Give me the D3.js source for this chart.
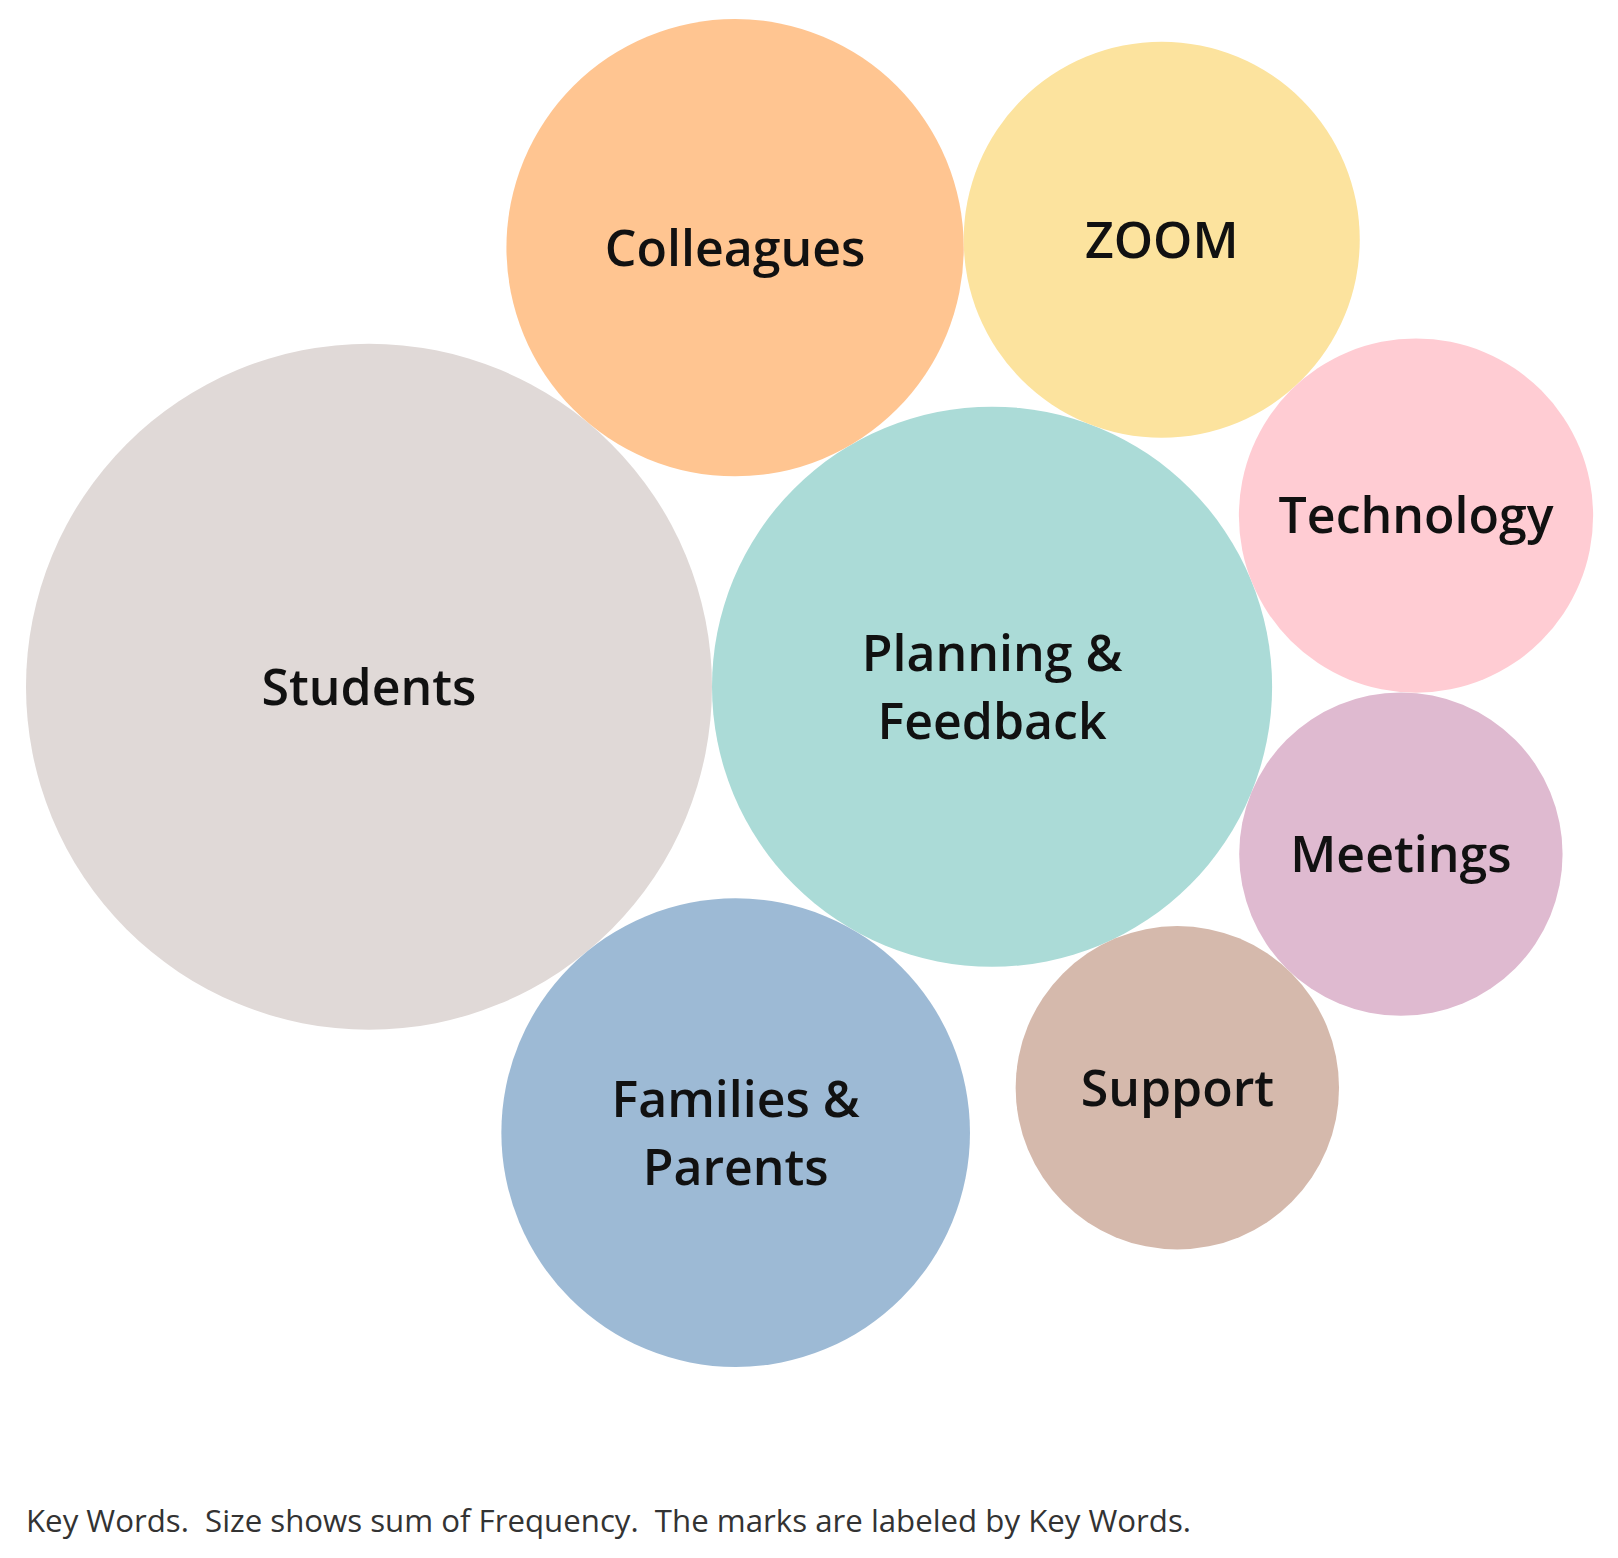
<!DOCTYPE html>
<html>
<head>
<meta charset="utf-8">
<script src="https://cdn.jsdelivr.net/npm/d3@7"></script>
<style>
  body { margin: 0; background: #fff; }
  svg { display: block; }
</style>
</head>
<body>
<div id="bubbles"></div>
<script>
(function () {
  const width = 1618, height = 1558;
  const left = 26, top = 19;

  // key words, sorted by frequency (Tableau packs largest first)
  const keyWords = ["Students", "Planning & Feedback", "Families & Parents", "Colleagues", "ZOOM", "Technology", "Meetings", "Support"];
  const frequency = [45, 30, 21, 20, 15, 12, 10, 10];
  const colors = ["#e0d9d7", "#abdbd7", "#9dbad5", "#ffc591", "#fce39e", "#ffccd3", "#dfbad0", "#d5b9ac"];
  const labelLines = [["Students"], ["Planning &", "Feedback"], ["Families &", "Parents"], ["Colleagues"], ["ZOOM"], ["Technology"], ["Meetings"], ["Support"]];

  const rScale = d3.scaleSqrt().domain([0, d3.max(frequency)]).range([0, 343]);

  const nodes = keyWords.map((k, i) => ({ key: k, value: frequency[i], r: rScale(frequency[i]), color: colors[i], lines: labelLines[i] }));

  // pack: first two side by side, the rest tangent to the second (anchor)
  // and to a neighbour, going round the anchor
  function tangents(a, b, r) {
    const dx = b.x - a.x, dy = b.y - a.y, d = Math.hypot(dx, dy);
    const da = a.r + r, db = b.r + r;
    const t = (d * d + da * da - db * db) / (2 * d);
    const h = Math.sqrt(Math.max(0, da * da - t * t));
    const ux = dx / d, uy = dy / d;
    return [
      { x: a.x + t * ux - h * uy, y: a.y + t * uy + h * ux },
      { x: a.x + t * ux + h * uy, y: a.y + t * uy - h * ux }
    ];
  }
  const free = (p, r, placed) => placed.every(q => Math.hypot(p.x - q.x, p.y - q.y) >= q.r + r - 0.5);

  nodes[0].x = 0; nodes[0].y = 0;
  nodes[1].x = nodes[0].r + nodes[1].r; nodes[1].y = 0;
  for (let i = 2; i < nodes.length; i++) {
    const n = nodes[i], placed = nodes.slice(0, i);
    const nb = i < 4 ? nodes[0] : nodes[i - 1];
    const c = tangents(nb, nodes[1], n.r)
      .filter(p => free(p, n.r, placed))
      .sort((p, q) => q.y - p.y)[0];
    n.x = c.x; n.y = c.y;
  }

  const x0 = d3.min(nodes, d => d.x - d.r);
  const y0 = d3.min(nodes, d => d.y - d.r);
  const x = d3.scaleLinear().domain([x0, x0 + 1]).range([left, left + 1]);
  const y = d3.scaleLinear().domain([y0, y0 + 1]).range([top, top + 1]);

  const svg = d3.select("#bubbles")
    .append("svg")
    .attr("width", width)
    .attr("height", height);

  const g = svg.selectAll("g.mark")
    .data(nodes)
    .join("g")
      .attr("class", "mark")
      .attr("transform", d => `translate(${x(d.x)},${y(d.y)})`);

  g.append("circle")
    .attr("r", d => d.r)
    .attr("fill", d => d.color);

  const fontSize = 50, lineH = 68, cap = 0.714 * fontSize;
  g.each(function (d) {
    const n = d.lines.length;
    d3.select(this).selectAll("text")
      .data(d.lines)
      .join("text")
        .attr("x", 0)
        .attr("y", (t, i) => cap / 2 + (i - (n - 1) / 2) * lineH)
        .attr("text-anchor", "middle")
        .style("font-family", "'Open Sans', sans-serif")
        .style("font-weight", 600)
        .style("font-size", fontSize + "px")
        .style("fill", "#111")
        .text(t => t);
  });

  svg.append("text")
    .attr("x", 26)
    .attr("y", 1532)
    .attr("textLength", 1165)
    .attr("lengthAdjust", "spacingAndGlyphs")
    .style("white-space", "pre")
    .style("font-family", "'Open Sans', sans-serif")
    .style("font-size", "31px")
    .style("fill", "#333")
    .text("Key Words.  Size shows sum of Frequency.  The marks are labeled by Key Words.");
})();
</script>
</body>
</html>
